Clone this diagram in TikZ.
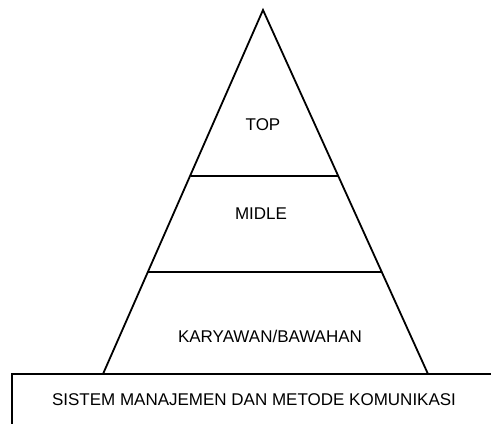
\documentclass[tikz,border=0pt]{standalone}
\usepackage{fontspec}
\setmainfont{Liberation Sans}
\begin{document}
\begin{tikzpicture}[x=1pt,y=-1pt,
  edge/.style={line width=1.8pt,black},
  lbl/.style={font=\fontsize{17}{20}\selectfont,inner sep=0pt,anchor=center}]
\useasboundingbox (0,0) rectangle (491,424);
\coordinate (apex) at (263,10);
\coordinate (bl) at (103,374);
\coordinate (br) at (428,374);
\coordinate (t1l) at (190.5,176);
\coordinate (t1r) at (337.5,176);
\coordinate (t2l) at (147.5,272);
\coordinate (t2r) at (382,272);
\coordinate (boxtl) at (12,374);
\coordinate (boxtr) at (491,374);
\coordinate (boxbl) at (12,424);
\draw[edge,line join=miter] (bl) -- (apex) -- (br);
\draw[edge] (t1l) -- (t1r);
\draw[edge] (t2l) -- (t2r);
\draw[edge] (boxtr) -- (boxtl) -- (boxbl);
\node[lbl] (top) at (263,125) {TOP};
\node[lbl] (midle) at (261,214) {MIDLE};
\node[lbl] (kary) at (270,336) {KARYAWAN/BAWAHAN};
\node[lbl] (sistem) at (254,400) {SISTEM MANAJEMEN DAN METODE KOMUNIKASI};
\end{tikzpicture}
\end{document}
